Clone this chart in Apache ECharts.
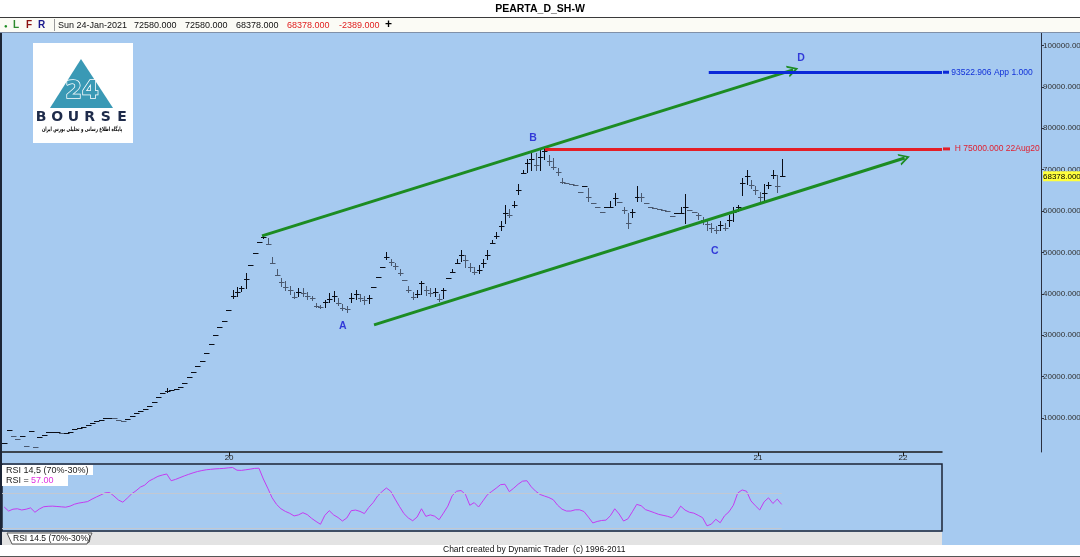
<!DOCTYPE html>
<html><head><meta charset="utf-8">
<script src="https://cdn.jsdelivr.net/npm/echarts@6/dist/echarts.min.js"></script>
<style>html,body{margin:0;padding:0;background:#fff;overflow:hidden}#c{width:1080px;height:557px}</style>
</head><body><div id="c"></div>
<script>
// ---------- DATA (prices in thousands, one entry per bar) ----------
const closes = [
4.0,7.1,5.7,5.0,5.7,3.3,6.9,3.0,5.4,6.0,
6.6,6.6,6.6,6.4,6.5,6.6,7.4,7.6,7.8,8.3,
8.8,9.2,9.5,10.0,10.1,9.9,9.6,9.3,9.8,10.5,
11.2,11.7,12.2,13.0,13.9,15.0,16.0,16.6,16.8,17.1,
17.5,18.5,19.8,21.1,22.5,23.8,25.7,28.0,30.0,32.0,
33.5,36.0,39.5,40.5,41.4,43.5,47.0,49.9,52.5,53.7,
52.0,47.5,44.5,42.8,41.6,40.9,39.3,40.5,40.3,39.5,
38.9,37.1,36.8,38.0,38.8,39.5,37.8,36.5,36.3,39.0,
40.0,39.0,38.5,39.0,41.7,44.0,46.5,48.9,47.7,46.8,
45.0,43.3,41.0,39.3,40.0,42.5,40.9,40.2,40.5,38.7,
40.9,43.8,45.3,47.5,49.5,48.2,46.5,45.3,45.8,47.5,
49.4,52.3,54.0,56.5,59.5,59.0,61.5,65.0,69.2,71.5,
72.5,71.0,73.0,74.5,72.0,70.6,69.4,67.0,66.8,66.6,
66.4,64.6,66.0,63.4,62.0,61.0,59.8,61.0,61.0,63.2,
62.2,60.3,57.0,59.8,63.5,63.4,62.0,61.0,60.7,60.5,
60.3,60.0,58.8,59.5,59.5,61.0,60.3,59.8,59.0,57.9,
56.8,55.9,55.4,56.6,55.9,57.9,59.8,61.0,66.8,68.5,
66.3,65.1,63.5,64.3,66.3,68.7,66.0,68.378];
const highs = [
4.0,7.1,5.7,5.0,5.7,3.3,6.9,3.0,5.4,6.0,
6.6,6.6,6.6,6.4,6.5,6.6,7.4,7.6,7.8,8.3,
8.8,9.2,9.5,10.0,10.1,9.9,9.6,9.3,9.8,10.5,
11.2,11.7,12.2,13.0,13.9,15.0,16.0,17.2,16.8,17.1,
17.5,18.5,19.8,21.1,22.5,23.8,25.7,28.0,30.0,32.0,
33.5,36.0,41.0,41.7,42.0,45.0,47.0,49.9,52.5,54.0,
53.5,49.0,46.0,43.8,43.0,42.0,40.5,41.5,41.4,40.5,
39.5,37.8,37.2,38.5,40.2,40.8,39.0,37.5,37.0,40.2,
41.0,40.0,39.5,39.8,41.7,44.0,46.5,50.0,48.5,47.5,
46.0,43.3,42.0,40.5,41.0,43.0,42.0,41.5,41.5,40.0,
41.5,43.8,46.0,48.5,50.5,49.5,47.5,46.5,47.0,48.5,
50.5,53.0,55.0,57.5,61.5,60.5,62.5,66.5,70.0,72.5,
74.5,74.0,74.8,75.0,73.5,72.8,70.5,68.0,66.8,66.6,
66.4,64.6,66.0,65.6,62.0,61.0,59.8,61.0,62.5,64.3,
62.2,61.0,59.5,60.5,66.0,64.3,62.0,61.0,60.7,60.5,
60.3,60.0,58.8,59.5,61.0,64.0,60.3,59.8,59.5,58.5,
57.8,57.0,56.5,57.5,57.0,59.0,61.0,61.5,68.0,70.0,
67.5,66.0,64.5,66.5,67.0,70.0,68.7,72.58];
const lows = [
4.0,7.1,5.7,5.0,5.7,3.3,6.9,3.0,5.4,6.0,
6.6,6.6,6.6,6.4,6.5,6.6,7.4,7.6,7.8,8.3,
8.8,9.2,9.5,10.0,10.1,9.9,9.6,9.3,9.8,10.5,
11.2,11.7,12.2,13.0,13.9,15.0,16.0,16.4,16.8,17.1,
17.5,18.5,19.8,21.1,22.5,23.8,25.7,28.0,30.0,32.0,
33.5,36.0,39.0,39.5,40.8,41.5,47.0,49.9,52.5,53.5,
52.0,47.5,44.5,41.8,41.0,40.0,39.0,39.5,39.5,38.8,
38.5,36.9,36.5,36.8,38.0,38.3,37.3,36.0,35.6,38.0,
38.8,38.3,37.5,37.8,41.7,44.0,46.5,48.5,47.0,46.0,
44.5,43.3,40.5,38.8,39.3,40.0,39.8,39.5,39.5,38.2,
39.0,43.8,45.3,47.5,48.0,46.5,45.5,44.8,45.0,46.5,
48.5,52.3,53.5,55.5,57.0,58.5,61.0,64.0,69.2,69.5,
70.0,69.8,70.0,72.5,71.0,70.2,68.8,66.8,66.8,66.6,
66.4,64.6,66.0,62.5,62.0,61.0,59.8,61.0,61.0,61.5,
62.2,59.5,56.0,58.5,62.5,62.5,62.0,61.0,60.7,60.5,
60.3,60.0,58.8,59.5,59.5,57.0,60.3,59.8,58.0,56.8,
55.4,55.0,54.8,55.5,55.5,56.5,57.5,60.0,63.9,66.5,
65.5,64.0,62.0,62.3,65.5,68.0,64.6,68.378];
const rsi = [
54,49.4,51.5,52,50.6,51.5,53,48,51.7,54.3,
54.8,55,54.6,54.2,53.8,55,57.2,58.5,59.3,60.2,
63,65.5,67.8,70.2,70.5,66.5,62,59.5,64,69,
72.5,76.7,79,83.7,86.3,89,90.5,91.7,84,85.5,
87.5,89.5,91.3,93,94.5,95.6,96.5,97,97.5,97.8,
98.1,98.7,99.1,96,95.8,96.5,97.2,98.1,98.3,86,
75.5,64.5,57,52,49,46.8,43.8,45,47.5,45.3,
41,37.5,34.3,44.5,49.8,45,42,38,41.5,49.8,
50.5,49,46.5,53.5,59,66.5,71.5,75.7,72,63,
54.5,46.5,41.5,38.3,42.5,52,43.3,45,43.5,39.5,
47,55,67,72,72.8,68.5,56,59,54,61,
68,71.8,75.5,79.5,80,71.5,75.5,80,83.5,84,
77,72,68.3,66.5,64.8,62.3,56,51.5,49.4,49.4,
50.8,50.8,48.8,42.5,35.8,37.5,38.6,39,44,52,
46,38,40.5,48.5,57,55.5,51,49.3,47.5,45.6,
44.5,43.4,41.7,47,55,50.5,48,47,44.5,41.8,
32.5,34.5,40,36,44,48.5,56,70,73.5,72,
61,55.5,50.6,59.9,64.5,58,63,57];
const rsiLevels = [70, 30];
const xTickIdx = [51.2, 171.6, 204.6];
const xTickLabels = ['20', '21', '22'];
const yTicks = [10, 20, 30, 40, 50, 60, 70, 80, 90, 100];
const lastPrice = 68.378;
const waveLabels = ['A', 'B', 'C', 'D'];
const waveIdx = [77.1, 120.4, 161.8, 181.4];
const waveVal = [32.2, 77.7, 50.4, 97.0];
const channelUpper = [[58.7, 54.0], [179.6, 94.1]];
const channelLower = [[84.2, 32.5], [205.0, 72.8]];
const highLevel = {from: 123.1, value: 75.0, text: 'H 75000.000 22Aug20'};
const targetLevel = {from: 160.4, value: 93.522906, text: '93522.906 App 1.000'};
const infoDate = 'Sun 24-Jan-2021';
const infoOHLC = [72580, 72580, 68378, 68378];
const infoChange = -2389;
const title = 'PEARTA_D_SH-W';
// -------------------------------------------------------------------

const X_MIN = -0.5, X_MAX = 213.5;
const FONT = 'Liberation Sans';
const chart = echarts.init(document.getElementById('c'), null, {renderer: 'canvas'});
const barData = closes.map((c, i) => [i, c, highs[i], lows[i], (i > 0 && c < closes[i - 1]) ? 1 : 0]);
const rsiData = rsi.map((r, i) => [i, r]);
const fmt = v => (v * 1000).toFixed(3);
const lastIdx = closes.length - 1;

function txt(x, y, text, opt) {
  opt = opt || {};
  const el = {type: 'text', x: x, y: y, z: 100, silent: true,
    style: Object.assign({text: text, fill: '#111', fontSize: 9, fontFamily: FONT,
      textAlign: opt.align || 'left', textVerticalAlign: 'middle', align: opt.align || 'left', verticalAlign: 'middle'}, opt.style || {})};
  if (opt.scaleX) el.scaleX = opt.scaleX;
  return el;
}
function rect(x, y, w, h, fill, z) {
  return {type: 'rect', shape: {x: x, y: y, width: w, height: h}, style: {fill: fill}, z: z || 90, silent: true};
}

const chevron = 'path://M0,12 L6,0 L12,12 L10,12 L6,4 L2,12 Z';
const green = '#1C8C22';

const infoTexts = [
  {x: 58, t: infoDate, c: '#111'},
  {x: 134, t: infoOHLC[0].toFixed(3), c: '#111'},
  {x: 185, t: infoOHLC[1].toFixed(3), c: '#111'},
  {x: 236, t: infoOHLC[2].toFixed(3), c: '#111'},
  {x: 287, t: infoOHLC[3].toFixed(3), c: '#E02020'},
  {x: 339, t: infoChange.toFixed(3), c: '#E02020'}
];

const logoLetters = ['B', 'O', 'U', 'R', 'S', 'E'];

const graphics = [
  rect(0, 0, 1080, 17, '#FFFFFF'),
  rect(0, 17, 1080, 1, '#3a3a3a'),
  rect(0, 18, 1080, 14, '#FBFBF5'),
  rect(0, 32, 1080, 1, '#8090a8'),
  txt(540, 9, title, {align: 'center', style: {fontSize: 10.5, fontWeight: 'bold', fill: '#000'}}),
  txt(4, 26, '●', {style: {fontSize: 6, fill: '#1C8C22'}}),
  txt(13, 25.5, 'L', {style: {fontSize: 10, fontWeight: 'bold', fill: '#2E8B2E'}}),
  txt(26, 25.5, 'F', {style: {fontSize: 10, fontWeight: 'bold', fill: '#8B1010'}}),
  txt(38, 25.5, 'R', {style: {fontSize: 10, fontWeight: 'bold', fill: '#1A1A8C'}}),
  rect(54, 19, 1, 12, '#9a9a9a'),
  ...infoTexts.map(o => txt(o.x, 25.5, o.t, {style: {fill: o.c, fontSize: 9}})),
  txt(385, 25, '+', {style: {fontSize: 12, fontWeight: 'bold', fill: '#000'}}),
  // window border
  rect(0, 33, 2, 512, '#1C2536'),
  // logo
  rect(33, 43, 100, 100, '#FFFFFF', 95),
  {type: 'polygon', z: 96, silent: true, shape: {points: [[81, 59], [50, 108], [113, 108]]}, style: {fill: '#3A99B5'}},
  txt(82, 92, '24', {align: 'center', style: {fontSize: 24, fontWeight: 'bold', fontFamily: 'DejaVu Sans', fill: '#3A99B5', stroke: '#FFFFFF', lineWidth: 1.5}}),
  ...logoLetters.map((l, k) => txt(41 + k * 16.2, 117, l, {align: 'center', style: {fontSize: 14, fontWeight: 'bold', fontFamily: 'DejaVu Sans', fill: '#1E2B4A'}})),
  txt(82, 129, 'پایگاه اطلاع رسانی و تحلیلی بورس ایران', {align: 'center', scaleX: 0.66, style: {fontSize: 6, fontWeight: 'bold', fontFamily: 'DejaVu Sans', fill: '#000'}}),
  // RSI legend
  rect(2, 465, 91, 10, '#FFFFFF'),
  txt(6, 470.5, 'RSI 14,5 (70%-30%)', {style: {fontSize: 9, fill: '#222'}}),
  rect(2, 475, 66, 11, '#FFFFFF'),
  txt(6, 481, 'RSI =', {style: {fontSize: 9, fill: '#222'}}),
  txt(31, 481, rsi[lastIdx].toFixed(2), {style: {fontSize: 9, fill: '#E030E0'}}),
  // bottom strip / tab / footer
  rect(2, 532, 940, 13, '#E3E3E3'),
  {type: 'polygon', z: 96, silent: true, shape: {points: [[7, 533], [92, 533], [87, 544], [12, 544]]}, style: {fill: '#FFFFFF', stroke: '#555', lineWidth: 1}},
  txt(13, 539, 'RSI 14.5 (70%-30%)', {style: {fontSize: 8.5, fill: '#111'}}),
  rect(0, 545, 1080, 12, '#FFFFFF'),
  rect(0, 556, 1080, 1, '#555'),
  txt(443, 550, 'Chart created by Dynamic Trader  (c) 1996-2011', {style: {fontSize: 8.5, fill: '#111'}})
];

const option = {
  backgroundColor: '#A6CAF0',
  animation: false,
  grid: [
    {left: 2, right: 138, top: 33, bottom: 105, outerBoundsMode: 'none', containLabel: false},
    {left: 2, right: 138, top: 464, height: 67, outerBoundsMode: 'none', containLabel: false,
      show: true, borderColor: '#1C2536', borderWidth: 1.5, backgroundColor: 'transparent'}
  ],
  xAxis: [
    {type: 'value', gridIndex: 0, min: X_MIN, max: X_MAX,
      axisLine: {show: true, onZero: false, lineStyle: {color: '#1a1a1a', width: 1.5}},
      axisTick: {show: true, customValues: xTickIdx, length: 4, lineStyle: {color: '#1a1a1a'}},
      axisLabel: {show: true, customValues: xTickIdx, margin: 2, fontSize: 8, fontFamily: FONT, color: '#222',
        formatter: v => { const k = xTickIdx.findIndex(t => Math.abs(t - v) < 1e-6); return k >= 0 ? xTickLabels[k] : ''; }},
      splitLine: {show: false}},
    {type: 'value', gridIndex: 1, min: X_MIN, max: X_MAX, show: false}
  ],
  yAxis: [
    {type: 'value', gridIndex: 0, position: 'right', offset: 99, min: 1.8, max: 103.0,
      axisLine: {show: true, onZero: false, lineStyle: {color: '#2a3040', width: 1}},
      axisTick: {show: true, customValues: yTicks, length: 3, inside: false, lineStyle: {color: '#2a3040'}},
      axisLabel: {show: true, customValues: yTicks.concat([lastPrice]), margin: 2, fontSize: 8, fontFamily: FONT, color: '#303030',
        hideOverlap: false,
        formatter: v => Math.abs(v - lastPrice) < 1e-6 ? '{hl|' + fmt(v) + '}' : fmt(v),
        rich: {hl: {backgroundColor: '#FFFF3C', color: '#000', fontSize: 8, fontFamily: FONT, padding: [1, 0, 1, 0]}}},
      splitLine: {show: false}},
    {type: 'value', gridIndex: 1, min: 26.6, max: 103.1, show: false}
  ],
  series: [
    {
      name: 'Price', type: 'custom', xAxisIndex: 0, yAxisIndex: 0, clip: true,
      data: barData, encode: {x: 0, y: [1, 2, 3]},
      renderItem: (params, api) => {
        const i = api.value(0), c = api.value(1), h = api.value(2), l = api.value(3), dn = api.value(4);
        const pc = api.coord([i, c]), ph = api.coord([i, h]), pl = api.coord([i, l]);
        const x = Math.round(pc[0]) + 0.5;
        const col = dn ? '#4A586E' : '#0A0D16';
        const ch = [];
        if (pl[1] - ph[1] > 0.8) ch.push({type: 'line', shape: {x1: x, y1: Math.round(ph[1]), x2: x, y2: Math.round(pl[1]) + 1}, style: {stroke: col, lineWidth: 1}});
        const y = Math.round(pc[1]) + 0.5;
        ch.push({type: 'line', shape: {x1: x - 2.5, y1: y, x2: x + 3, y2: y}, style: {stroke: col, lineWidth: 1}});
        return {type: 'group', children: ch};
      },
      z: 3
    },
    {
      name: 'Waves', type: 'scatter', xAxisIndex: 0, yAxisIndex: 0, symbolSize: 0,
      itemStyle: {color: 'rgba(0,0,0,0)'},
      data: waveIdx.map((x, k) => [x, waveVal[k]]),
      label: {show: true, position: 'inside', formatter: p => waveLabels[p.dataIndex], color: '#1414D2',
        fontWeight: 'bold', fontSize: 10.5, fontFamily: FONT},
      z: 5,
      markLine: {
        silent: true, animation: false, symbol: ['none', 'none'], precision: 6,
        label: {show: false},
        data: [
          [{coord: channelUpper[0], symbol: 'none', lineStyle: {color: green, width: 3, type: 'solid'}},
           {coord: channelUpper[1], symbol: chevron, symbolSize: [12, 11]}],
          [{coord: channelLower[0], symbol: 'none', lineStyle: {color: green, width: 3, type: 'solid'}},
           {coord: channelLower[1], symbol: chevron, symbolSize: [12, 11]}],
          [{coord: [highLevel.from, highLevel.value], symbol: 'none', lineStyle: {color: '#E41E26', width: 3, type: 'solid'},
            label: {show: true, position: 'end', distance: 1, formatter: '{d|}  ' + highLevel.text, color: '#E02030', fontSize: 8.5, fontFamily: FONT,
              rich: {d: {width: 7, height: 3, backgroundColor: '#E41E26'}}}},
           {coord: [X_MAX, highLevel.value], symbol: 'none'}],
          [{coord: [targetLevel.from, targetLevel.value], symbol: 'none', lineStyle: {color: '#0A28D8', width: 3, type: 'solid'},
            label: {show: true, position: 'end', distance: 1, formatter: '{d|} ' + targetLevel.text, color: '#1030D8', fontSize: 8.5, fontFamily: FONT,
              rich: {d: {width: 6, height: 3, backgroundColor: '#0A28D8'}}}},
           {coord: [X_MAX, targetLevel.value], symbol: 'none'}]
        ]
      }
    },
    {
      name: 'RSI', type: 'line', xAxisIndex: 1, yAxisIndex: 1, data: rsiData, showSymbol: false, symbol: 'none',
      lineStyle: {color: '#C43CF0', width: 1}, z: 4,
      markLine: {
        silent: true, animation: false, symbol: ['none', 'none'], label: {show: false},
        lineStyle: {color: '#C2C8D2', width: 1, type: 'solid'},
        data: rsiLevels.map(v => [{coord: [X_MIN, v]}, {coord: [lastIdx, v]}])
      }
    }
  ],
  graphic: {elements: graphics}
};
chart.setOption(option);
</script></body></html>
